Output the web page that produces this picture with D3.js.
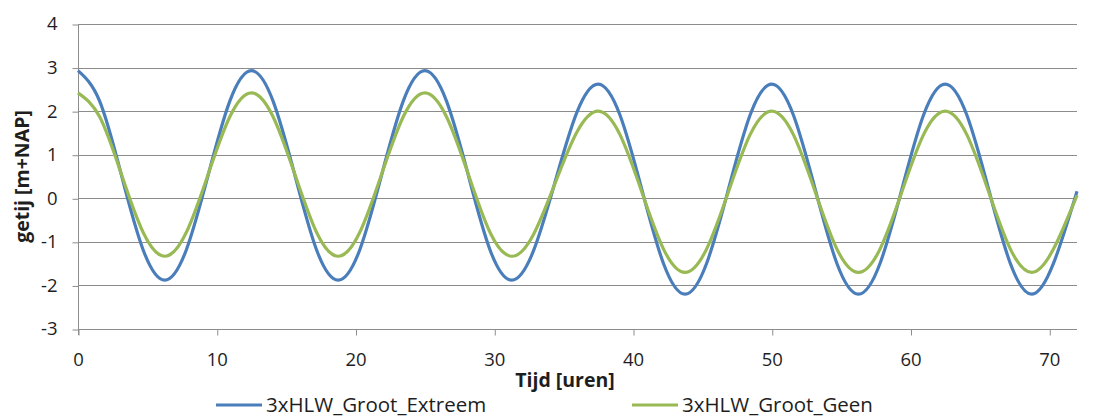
<!DOCTYPE html>
<html>
<head>
<meta charset="utf-8">
<script src="https://cdn.jsdelivr.net/npm/d3@7"></script>
<style>
  html, body { margin: 0; padding: 0; background: #fff; }
  svg { display: block; font-family: "Open Sans", "Noto Sans", sans-serif; }
</style>
</head>
<body>
<svg id="chart" width="1101" height="417"></svg>
<script>
// Tide levels (m+NAP) over 72 hours, sampled every 1/8 of a tidal cycle
const hours = [0, 1.56, 3.13, 4.69, 6.25, 7.81, 9.38, 10.94, 12.5, 14.06, 15.63, 17.19, 18.75,
  20.31, 21.88, 23.44, 25, 26.56, 28.13, 29.69, 31.25, 32.81, 34.38, 35.94, 37.5, 39.06,
  40.63, 42.19, 43.75, 45.31, 46.88, 48.44, 50, 51.56, 53.13, 54.69, 56.25, 57.81, 59.38,
  60.94, 62.5, 64.06, 65.63, 67.19, 68.75, 70.31, 72];

const extreem = [2.93, 2.23, 0.53, -1.18, -1.88, -1.18, 0.53, 2.23, 2.93, 2.23, 0.53, -1.18, -1.88,
  -1.18, 0.53, 2.23, 2.93, 2.23, 0.53, -1.18, -1.88, -1.22, 0.37, 1.96, 2.62, 1.91,
  0.21, -1.49, -2.20, -1.49, 0.21, 1.91, 2.62, 1.91, 0.21, -1.49, -2.20, -1.49, 0.21,
  1.91, 2.62, 1.91, 0.21, -1.49, -2.20, -1.49, 0.16];

const geen = [2.42, 1.87, 0.55, -0.78, -1.33, -0.78, 0.55, 1.87, 2.42, 1.87, 0.55, -0.78, -1.33,
  -0.78, 0.55, 1.87, 2.42, 1.87, 0.55, -0.78, -1.33, -0.84, 0.34, 1.51, 2.00, 1.46,
  0.15, -1.16, -1.70, -1.16, 0.15, 1.46, 2.00, 1.46, 0.15, -1.16, -1.70, -1.16, 0.15,
  1.46, 2.00, 1.46, 0.15, -1.16, -1.70, -1.16, 0.07];

const seriesNames = ["3xHLW_Groot_Extreem", "3xHLW_Groot_Geen"];
const seriesColors = ["#4A7EBB", "#98B954"];
const xTicks = [0, 10, 20, 30, 40, 50, 60, 70];
const yTicks = [-3, -2, -1, 0, 1, 2, 3, 4];
const xTitle = "Tijd [uren]";
const yTitle = "getij [m+NAP]";

const svg = d3.select("#chart");
const plot = { left: 78, right: 1077, top: 24, bottom: 329 };

const x = d3.scaleLinear().domain([0, 72]).range([plot.left, plot.right]);
const y = d3.scaleLinear().domain([-3, 4]).range([plot.bottom, plot.top]);

const gridColor = "#8C8C8C";
const textColor = "#1E1E1E";
const plainLabel = d => String(d);

// horizontal gridlines
svg.append("g")
  .selectAll("line")
  .data(yTicks)
  .join("line")
  .attr("x1", plot.left).attr("x2", plot.right)
  .attr("y1", d => Math.round(y(d)) + 0.5).attr("y2", d => Math.round(y(d)) + 0.5)
  .attr("stroke", gridColor).attr("stroke-width", 1);

// y axis
const yAxis = svg.append("g")
  .attr("transform", `translate(${plot.left + 0.5},0)`)
  .call(d3.axisLeft(y).tickValues(yTicks).tickSize(6).tickPadding(15).tickFormat(plainLabel));
yAxis.selectAll("line").attr("stroke", gridColor).attr("transform", "translate(0,0.5)");
yAxis.select(".domain").attr("stroke", gridColor).attr("d", `M0,${plot.top}V${plot.bottom + 6}`);
yAxis.selectAll("text").attr("font-size", 18.5).attr("fill", textColor)
  .attr("font-family", "'Open Sans', sans-serif");

// x axis
const xAxis = svg.append("g")
  .attr("transform", `translate(0,${Math.round(y(-3)) + 0.5})`)
  .call(d3.axisBottom(x).tickValues(xTicks).tickSize(6).tickFormat(plainLabel));
xAxis.select(".domain").remove();
xAxis.selectAll("line").attr("stroke", gridColor).attr("transform", "translate(0.5,0)");
xAxis.selectAll("text")
  .attr("y", 366 - (Math.round(y(-3)) + 0.5)).attr("dy", null)
  .attr("font-size", 18.5).attr("fill", textColor)
  .attr("font-family", "'Open Sans', sans-serif");

// tide curves
const line = d3.line()
  .x((d, i) => x(hours[i]))
  .y(d => y(d))
  .curve(d3.curveNatural);

[extreem, geen].forEach((vals, i) => {
  svg.append("path")
    .attr("d", line(vals))
    .attr("fill", "none")
    .attr("stroke", seriesColors[i])
    .attr("stroke-width", 3.2)
    .attr("stroke-linejoin", "round");
});

// axis titles
svg.append("text")
  .attr("x", 565).attr("y", 387)
  .attr("text-anchor", "middle")
  .attr("font-size", 19.5).attr("font-weight", "bold").attr("fill", textColor)
  .text(xTitle);

svg.append("text")
  .attr("transform", `translate(29,${(plot.top + plot.bottom) / 2}) rotate(-90)`)
  .attr("text-anchor", "middle")
  .attr("font-size", 19.5).attr("font-weight", "bold").attr("fill", textColor)
  .text(yTitle);

// legend
const legendX = [216, 632];
seriesNames.forEach((name, i) => {
  const g = svg.append("g").attr("transform", `translate(${legendX[i]},405)`);
  g.append("line").attr("x1", 0).attr("x2", 46).attr("y1", 0).attr("y2", 0)
    .attr("stroke", seriesColors[i]).attr("stroke-width", 3.2);
  g.append("text").attr("x", 50).attr("y", 7)
    .attr("font-size", 20.5).attr("fill", textColor)
    .text(name);
});
</script>
</body>
</html>
